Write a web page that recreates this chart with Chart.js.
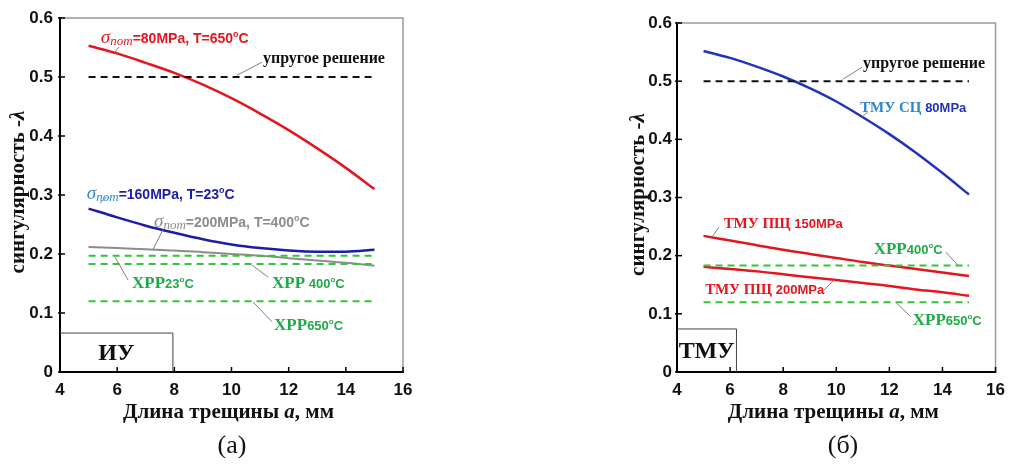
<!DOCTYPE html>
<html>
<head>
<meta charset="utf-8">
<script src="https://cdn.jsdelivr.net/npm/chart.js@4.4.1/dist/chart.umd.min.js"></script>
<style>
    body { margin: 0; background: #fff; width: 1013px; height: 464px; overflow: hidden; position: relative; }
    #wrapA { position: absolute; left: 0; top: 0; }
    #wrapB { position: absolute; left: 500px; top: 0; }
    .cap { position: absolute; top: 430px; width: 80px; text-align: center; font: 26px 'Liberation Serif', serif; color: #111; }
</style>
</head>
<body>
<div id="wrapA"><canvas id="chartA" width="430" height="464"></canvas></div>
<div id="wrapB"><canvas id="chartB" width="513" height="464"></canvas></div>
<div class="cap" style="left:192px">(a)</div>
<div class="cap" style="left:803px">(б)</div>
<script>
// Длина трещины a, мм
const crackLen = [5, 6, 7, 8, 9, 10, 11, 12, 13, 14, 15];
const lineEnds = [5, 15];
const xTickLabels = ['4', '6', '8', '10', '12', '14', '16'];
const yTickLabels = ['0', '0.1', '0.2', '0.3', '0.4', '0.5', '0.6'];

// (а) ИУ
const iuRed80 = [0.553, 0.540, 0.524, 0.507, 0.487, 0.464, 0.438, 0.410, 0.379, 0.346, 0.310];
const iuBlue160 = [0.277, 0.262, 0.248, 0.236, 0.225, 0.216, 0.210, 0.206, 0.204, 0.204, 0.207];
const iuGray200 = [0.212, 0.210, 0.208, 0.206, 0.203, 0.200, 0.197, 0.193, 0.189, 0.185, 0.180];
const elastic = [0.5, 0.5];
const xrr23 = [0.197, 0.197];
const xrr400 = [0.183, 0.183];
const xrr650 = [0.12, 0.12];

// (б) ТМУ
const tmuSc80 = [0.552, 0.540, 0.525, 0.508, 0.488, 0.465, 0.438, 0.409, 0.377, 0.342, 0.305];
const tmuPsh150 = [0.234, 0.226, 0.218, 0.210, 0.203, 0.196, 0.189, 0.183, 0.177, 0.171, 0.165];
const tmuPsh200 = [0.181, 0.177, 0.173, 0.168, 0.163, 0.158, 0.153, 0.148, 0.142, 0.137, 0.131];
const tmuXrr400 = [0.183, 0.183];
const tmuXrr650 = [0.12, 0.12];

const SANS = "'Liberation Sans', Arial, sans-serif";
const SERIF = "'Liberation Serif', 'Times New Roman', serif";
const RED = '#e3161f';
const BLUE = '#1c1ca6';
const LIGHT_BLUE = '#2f86d0';
const GRAY = '#8c8c8c';
const GREEN_LINE = '#35c435';
const GREEN_TEXT = '#1faa48';

function pts(xs, ys) {
    return xs.map((x, i) => ({ x: x, y: ys[i] }));
}

function solid(ys, color, width) {
    return {
        data: pts(crackLen, ys), borderColor: color, borderWidth: width,
        pointRadius: 0, cubicInterpolationMode: 'monotone', fill: false
    };
}

function dashed(ys, color) {
    return {
        data: pts(lineEnds, ys), borderColor: color, borderWidth: 2,
        borderDash: [7, 5], pointRadius: 0, fill: false
    };
}

// куски подписей
const sig = (c) => [
    { t: 'σ', f: `italic 19px ${SERIF}`, c: c },
    { t: 'nom', f: `italic 13px ${SERIF}`, c: c, dy: 2 }
];
const txt = (t, size, c) => ({ t: t, f: `bold ${size}px ${SANS}`, c: c });
const deg = (c, size) => [
    { t: 'o', f: `bold ${Math.round(size * 0.62)}px ${SANS}`, c: c, dy: -6 },
    { t: 'C', f: `bold ${size}px ${SANS}`, c: c }
];
const xrr = (temp) => [{ t: 'ХРР', f: `bold 17px ${SERIF}`, c: GREEN_TEXT }, txt(temp, 13, GREEN_TEXT), ...deg(GREEN_TEXT, 13)];
const elasticNote = [{ t: 'упругое решение', f: `bold 16px ${SERIF}`, c: '#111' }];

function measure(ctx, parts) {
    let w = 0;
    parts.forEach(p => { ctx.font = p.f; w += ctx.measureText(p.t).width; });
    return w;
}

function drawRich(ctx, x, y, parts) {
    ctx.textBaseline = 'alphabetic';
    ctx.textAlign = 'left';
    let cx = x;
    parts.forEach(p => {
        ctx.font = p.f;
        ctx.fillStyle = p.c || '#111';
        ctx.fillText(p.t, cx, y + (p.dy || 0));
        cx += ctx.measureText(p.t).width;
    });
}

function overlay(cfg) {
    return {
        id: 'overlay',
        beforeDatasetsDraw(chart) {
            const { ctx, chartArea: a } = chart;
            ctx.save();
            ctx.strokeStyle = '#9a9a9a';
            ctx.lineWidth = 1.5;
            ctx.beginPath();
            ctx.moveTo(a.left, a.top);
            ctx.lineTo(a.right, a.top);
            ctx.lineTo(a.right, a.bottom);
            ctx.stroke();
            ctx.restore();
        },
        afterDraw(chart) {
            const { ctx, chartArea: a, scales } = chart;
            const sx = scales.x, sy = scales.y;
            ctx.save();

            // засечки
            ctx.strokeStyle = '#000';
            ctx.lineWidth = 1.5;
            sx.ticks.forEach(t => {
                const px = sx.getPixelForValue(t.value);
                ctx.beginPath(); ctx.moveTo(px, a.bottom + 1); ctx.lineTo(px, a.bottom - 5); ctx.stroke();
            });
            sy.ticks.forEach(t => {
                const py = sy.getPixelForValue(t.value);
                ctx.beginPath(); ctx.moveTo(a.left - 2, py); ctx.lineTo(a.left + 5, py); ctx.stroke();
            });

            // выноски и подписи
            cfg.notes.forEach(n => {
                if (n.leader) {
                    ctx.strokeStyle = '#808080';
                    ctx.lineWidth = 1;
                    ctx.beginPath();
                    ctx.moveTo(sx.getPixelForValue(n.leader[0]), sy.getPixelForValue(n.leader[1]));
                    ctx.lineTo(sx.getPixelForValue(n.leader[2]), sy.getPixelForValue(n.leader[3]));
                    ctx.stroke();
                }
                drawRich(ctx, sx.getPixelForValue(n.x), sy.getPixelForValue(n.y) + 5, n.parts);
            });

            // рамка с подписью режима
            const bx = sx.getPixelForValue(cfg.box.x), by = sy.getPixelForValue(cfg.box.y);
            ctx.strokeStyle = '#444';
            ctx.lineWidth = 1;
            ctx.beginPath();
            ctx.moveTo(a.left, by); ctx.lineTo(bx, by); ctx.lineTo(bx, a.bottom);
            ctx.stroke();
            ctx.font = `bold 24px ${SERIF}`;
            ctx.fillStyle = '#111';
            ctx.textAlign = 'center';
            ctx.textBaseline = 'middle';
            ctx.fillText(cfg.box.text, (a.left + bx) / 2, (by + a.bottom) / 2 + 1);

            // подписи осей
            const yParts = [
                { t: 'сингулярность -', f: `bold 21px ${SERIF}`, c: '#111' },
                { t: 'λ', f: `italic bold 21px ${SERIF}`, c: '#111' }
            ];
            const yw = measure(ctx, yParts);
            ctx.save();
            ctx.translate(a.left - cfg.yTitleOffset, (a.top + a.bottom) / 2 - 3);
            ctx.rotate(-Math.PI / 2);
            drawRich(ctx, -yw / 2, 6, yParts);
            ctx.restore();

            const xParts = [
                { t: 'Длина трещины ', f: `bold 21px ${SERIF}`, c: '#111' },
                { t: 'a', f: `italic bold 21px ${SERIF}`, c: '#111' },
                { t: ', мм', f: `bold 21px ${SERIF}`, c: '#111' }
            ];
            const xw = measure(ctx, xParts);
            drawRich(ctx, (a.left + a.right) / 2 - xw / 2 - 3, a.bottom + 46, xParts);

            ctx.restore();
        }
    };
}

function makeScales(yWidth, yPad) {
    return {
        x: {
            type: 'linear', min: 4, max: 16,
            ticks: {
                stepSize: 2, padding: 8, maxRotation: 0, autoSkip: false,
                color: '#111', font: { family: SANS, size: 17, weight: 'bold' },
                callback: (v, i) => xTickLabels[i]
            },
            grid: { display: false, drawTicks: false },
            border: { display: true, color: '#000', width: 2 },
            afterFit: s => { s.height = 50; }
        },
        y: {
            min: 0, max: 0.6,
            ticks: {
                stepSize: 0.1, padding: yPad,
                color: '#111', font: { family: SANS, size: 17, weight: 'bold' },
                callback: (v, i) => yTickLabels[i]
            },
            grid: { display: false, drawTicks: false },
            border: { display: true, color: '#000', width: 2 },
            afterFit: s => { s.width = yWidth; }
        }
    };
}

function makeChart(id, datasets, padding, yWidth, yPad, cfg) {
    return new Chart(document.getElementById(id), {
        type: 'line',
        data: { datasets: datasets },
        options: {
            responsive: false,
            animation: false,
            parsing: false,
            layout: { padding: padding },
            plugins: { legend: { display: false }, tooltip: { enabled: false } },
            scales: makeScales(yWidth, yPad)
        },
        plugins: [overlay(cfg)]
    });
}

makeChart('chartA', [
    dashed(elastic, '#111'),
    dashed(xrr23, GREEN_LINE),
    dashed(xrr400, GREEN_LINE),
    dashed(xrr650, GREEN_LINE),
    solid(iuGray200, GRAY, 2),
    solid(iuBlue160, BLUE, 2.5),
    solid(iuRed80, RED, 2.5)
], { left: 0, top: 18, right: 27, bottom: 42 }, 60, 7, {
    yTitleOffset: 42,
    box: { x: 7.95, y: 0.066, text: 'ИУ' },
    notes: [
        { x: 5.43, y: 0.566, parts: [...sig(RED), txt('=80MPa, T=650', 14, RED), ...deg(RED, 14)], leader: [5.92, 0.542, 6.06, 0.551] },
        { x: 11.1, y: 0.532, parts: elasticNote, leader: [11.07, 0.525, 10.19, 0.503] },
        { x: 4.94, y: 0.302, parts: [...sig(LIGHT_BLUE), txt('=160MPa, T=23', 14, BLUE), ...deg(BLUE, 14)], leader: [5.40, 0.286, 5.64, 0.297] },
        { x: 7.29, y: 0.254, parts: [...sig(GRAY), txt('=200MPa, T=400', 14, GRAY), ...deg(GRAY, 14)], leader: [7.60, 0.241, 7.25, 0.207] },
        { x: 6.52, y: 0.151, parts: xrr('23'), leader: [6.38, 0.156, 5.92, 0.195] },
        { x: 11.42, y: 0.151, parts: xrr(' 400'), leader: [11.28, 0.161, 10.72, 0.181] },
        { x: 11.49, y: 0.080, parts: xrr('650'), leader: [11.42, 0.085, 10.75, 0.119] }
    ]
});

makeChart('chartB', [
    dashed(elastic, '#111'),
    dashed(tmuXrr400, GREEN_LINE),
    dashed(tmuXrr650, GREEN_LINE),
    solid(tmuPsh150, RED, 2.5),
    solid(tmuPsh200, RED, 2.5),
    solid(tmuSc80, '#2233bb', 2.5)
], { left: 0, top: 23, right: 9, bottom: 42 }, 177, 5, {
    yTitleOffset: 39,
    box: { x: 6.24, y: 0.074, text: 'ТМУ' },
    notes: [
        { x: 11.01, y: 0.531, parts: elasticNote, leader: [10.97, 0.524, 10.24, 0.503] },
        { x: 10.9, y: 0.455, parts: [{ t: 'ТМУ СЦ ', f: `bold 15px ${SERIF}`, c: LIGHT_BLUE }, txt('80MPa', 13, '#2233bb')], leader: [11.19, 0.447, 10.97, 0.438] },
        { x: 5.76, y: 0.256, parts: [{ t: 'ТМУ ПЩ ', f: `bold 15px ${SERIF}`, c: RED }, txt('150MPa', 13, RED)], leader: [5.32, 0.232, 5.58, 0.249] },
        { x: 11.41, y: 0.211, parts: xrr('400'), leader: [14.13, 0.206, 14.57, 0.184] },
        { x: 5.06, y: 0.143, parts: [{ t: 'ТМУ ПЩ ', f: `bold 15px ${SERIF}`, c: RED }, txt('200MPa', 13, RED)], leader: [9.54, 0.141, 9.91, 0.158] },
        { x: 12.88, y: 0.089, parts: xrr('650'), leader: [12.81, 0.095, 12.26, 0.119] }
    ]
});
</script>
</body>
</html>
